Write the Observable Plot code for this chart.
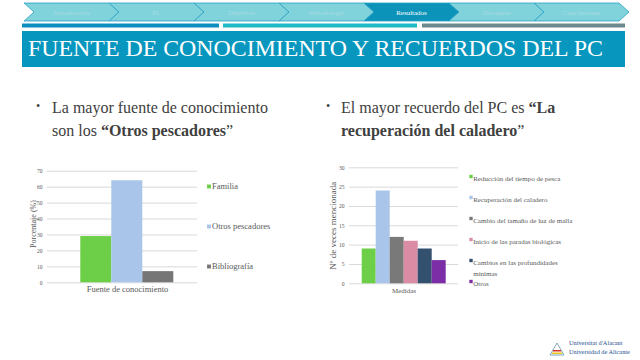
<!DOCTYPE html>
<html><head><meta charset="utf-8">
<script src="https://cdn.jsdelivr.net/npm/d3@7"></script>
<script src="https://cdn.jsdelivr.net/npm/@observablehq/plot@0.6"></script>
<style>
html,body{margin:0;padding:0;background:#fff;}
#slide{position:relative;width:640px;height:360px;overflow:hidden;color:#404040;}
#slide, #slide *{font-family:'Liberation Serif','Times New Roman',serif !important;}
.abs{position:absolute;}
.bul{position:absolute;font-size:16px;line-height:23px;color:#404040;white-space:nowrap;}
.dot{position:absolute;font-size:12px;color:#404040;}
</style></head><body><div id="slide"></div>
<script>
// ---------- data ----------
const navItems = ["Introducción","PC","Objetivos","Metodología","Resultados","Discusión","Conclusiones"];
const activeNav = "Resultados";
const title = "FUENTE DE CONOCIMIENTO Y RECUERDOS DEL PC";

const leftGroup = "Fuente de conocimiento";
const leftSeries = ["Familia","Otros pescadores","Bibliografía"];
const leftValues = [29, 64, 7];
const leftTicks = [0,10,20,30,40,50,60,70];
const leftYLabel = "Porcentaje (%)";

const rightGroup = "Medidas";
const rightSeries = ["Reducción del tiempo de pesca","Recuperación del caladero","Cambio del tamaño de luz de malla","Inicio de las paradas biológicas","Cambios en las profundidades mínimas","Otros"];
const rightValues = [9, 24, 12, 11, 9, 6];
const rightTicks = [0,5,10,15,20,25,30];
const rightYLabel = "Nº de veces mencionada";

// ---------- styles ----------
const leftColors = ["#6ccf47","#a9c5ea","#767676"];
const rightColors = ["#6ccf47","#a9c5ea","#797979","#d98ca4","#34506f","#7b2ea6"];
const font = "'Liberation Serif','Times New Roman',serif";
const slide = document.getElementById("slide");

// ---------- slide decoration ----------
const NS = "http://www.w3.org/2000/svg";
const deco = document.createElementNS(NS,"svg");
deco.setAttribute("width",640); deco.setAttribute("height",360);
deco.setAttribute("style","position:absolute;left:0;top:0");
const w = 85, x00 = 24, tip = 10;
navItems.forEach((n,i)=>{
  const x0 = x00 + i*w, x1 = x0 + w;
  const p = document.createElementNS(NS,"polygon");
  p.setAttribute("points",`${x0},3 ${x1},3 ${x1+tip},12 ${x1},21 ${x0},21 ${x0+tip},12`);
  p.setAttribute("fill", n===activeNav ? "#0b93ba" : "#80d3db");
  p.setAttribute("stroke","#2a9fc4"); p.setAttribute("stroke-width","0.8");
  deco.appendChild(p);
  const t = document.createElementNS(NS,"text");
  t.setAttribute("x", x0 + w/2 + tip/2); t.setAttribute("y", 14.5);
  t.setAttribute("text-anchor","middle");
  t.setAttribute("font-size","7");
  t.setAttribute("fill", n===activeNav ? "#ffffff" : "#a9dce3");
  t.textContent = n;
  deco.appendChild(t);
});
[[22,219,"#0c8fbf"],[223,417,"#1cbac6"],[422,625,"#6c8a8d"]].forEach(([a,b,c])=>{
  const r = document.createElementNS(NS,"rect");
  r.setAttribute("x",a); r.setAttribute("y",23.5); r.setAttribute("width",b-a); r.setAttribute("height",4);
  r.setAttribute("fill",c); deco.appendChild(r);
});
const tb = document.createElementNS(NS,"rect");
tb.setAttribute("x",22); tb.setAttribute("y",31); tb.setAttribute("width",603); tb.setAttribute("height",36);
tb.setAttribute("fill","#0796be"); deco.appendChild(tb);
const lg = document.createElementNS(NS,"g");
lg.innerHTML = `<polygon points="550,355 557,343 564,355" fill="none" stroke="#7fa6b8" stroke-width="1"/>
<rect x="553" y="350" width="8" height="1.5" fill="#d9342b"/><rect x="552" y="352.5" width="10" height="1.5" fill="#f0c419"/>`;
deco.appendChild(lg);
slide.appendChild(deco);

const tt = document.createElement("div");
tt.className="abs"; tt.textContent = title;
tt.style.cssText = "left:28px;top:31px;font-size:26px;line-height:34px;color:#fff;white-space:nowrap;";
slide.appendChild(tt);
// fit the title to the width it has on the slide
const tw = tt.getBoundingClientRect().width;
tt.style.fontSize = Math.min(26, 26 * 575 / tw) + "px";

slide.insertAdjacentHTML("beforeend", `
<div class="dot" style="left:36px;top:99px">•</div>
<div class="bul" style="left:52px;top:96px">La mayor fuente de conocimiento<br>son los <b>“Otros pescadores</b>”</div>
<div class="dot" style="left:326px;top:99px">•</div>
<div class="bul" style="left:341px;top:96px">El mayor recuerdo del PC es <b>“La<br>recuperación del caladero</b>”</div>
<div class="abs" style="left:569px;top:339px;font-size:6.3px;line-height:8.8px;color:#1d4f8f;white-space:nowrap">Universitat d'Alacant<br>Universidad de Alicante</div>
`);

function place(el, left, top){ el.style.position="absolute"; el.style.left=left+"px"; el.style.top=top+"px"; slide.appendChild(el); }

// ---------- left chart ----------
const leftData = leftSeries.map((s,i)=>({group:leftGroup, serie:s, value:leftValues[i]}));
const leftPlot = Plot.plot({
  width:180, height:142,
  marginLeft:26.7, marginRight:3.3, marginTop:10.7, marginBottom:19.7,
  style:{fontFamily:font, background:"transparent", color:"#595959"},
  fx:{domain:[leftGroup], padding:0, label:null},
  x:{domain:leftSeries, padding:0, insetLeft:33.3, insetRight:23.4, axis:null},
  y:{domain:[0,70]},
  color:{domain:leftSeries, range:leftColors},
  marks:[
    Plot.gridY(leftTicks, {stroke:"#d9d9d9", strokeOpacity:1}),
    Plot.axisY(leftTicks, {tickSize:0, tickPadding:5, fontSize:5.6, label:null, fill:"#595959"}),
    Plot.axisFx({anchor:"bottom", tickSize:0, tickPadding:3.5, fontSize:8.5, label:null, dx:5, fill:"#595959"}),
    Plot.barY(leftData, {fx:"group", x:"serie", y:"value", fill:"serie"}),
    Plot.text([leftYLabel], {frameAnchor:"left", textAnchor:"middle", rotate:-90, dx:-14.5, dy:-3, fontSize:8, fill:"#595959"})
  ]
});
place(leftPlot, 20, 160);

const leftLegend = Plot.plot({
  width:100, height:110, margin:0,
  style:{fontFamily:font, background:"transparent"},
  y:{type:"point", domain:leftSeries, range:[16,96], padding:0, axis:null},
  color:{domain:leftSeries, range:leftColors},
  marks:[
    Plot.dot(leftSeries, {y:d=>d, frameAnchor:"left", dx:8.5, symbol:"square", r:2.2, fill:d=>d}),
    Plot.text(leftSeries, {y:d=>d, frameAnchor:"left", textAnchor:"start", dx:11.5, fontSize:8.5, fill:"#595959", text:d=>d})
  ]
});
place(leftLegend, 200, 170);

// ---------- right chart ----------
const rightData = rightSeries.map((s,i)=>({group:rightGroup, serie:s, value:rightValues[i]}));
const rightPlot = Plot.plot({
  width:145, height:142,
  marginLeft:29.3, marginRight:6.7, marginTop:10.3, marginBottom:15.7,
  style:{fontFamily:font, background:"transparent", color:"#595959"},
  fx:{domain:[rightGroup], padding:0, label:null},
  x:{domain:rightSeries, padding:0, insetLeft:10.7, insetRight:10.3, axis:null},
  y:{domain:[0,30]},
  color:{domain:rightSeries, range:rightColors},
  marks:[
    Plot.gridY(rightTicks, {stroke:"#d9d9d9", strokeOpacity:1}),
    Plot.axisY(rightTicks, {tickSize:0, tickPadding:5, fontSize:5.6, label:null, fill:"#595959"}),
    Plot.axisFx({anchor:"bottom", tickSize:0, tickPadding:4, fontSize:7, label:null, fill:"#595959"}),
    Plot.barY(rightData, {fx:"group", x:"serie", y:"value", fill:"serie"}),
    Plot.text([rightYLabel], {frameAnchor:"left", textAnchor:"middle", rotate:-90, dx:-16, fontSize:9, fill:"#595959"})
  ]
});
place(rightPlot, 320, 157);

const rightLegend = Plot.plot({
  width:170, height:135, margin:0,
  style:{fontFamily:font, background:"transparent"},
  y:{type:"point", domain:rightSeries, range:[14,122.7], padding:0, axis:null},
  color:{domain:rightSeries, range:rightColors},
  marks:[
    Plot.dot(rightSeries, {y:d=>d, frameAnchor:"left", dx:8.5, symbol:"square", r:1.9, fill:d=>d}),
    Plot.text(rightSeries, {y:d=>d, frameAnchor:"left", textAnchor:"start", lineAnchor:"top", dy:-3.2, lineHeight:1.6,
      dx:10.7, fontSize:7, fill:"#595959", text:d=>d.replace(" mínimas","\nmínimas")})
  ]
});
place(rightLegend, 462, 160);
</script></body></html>
